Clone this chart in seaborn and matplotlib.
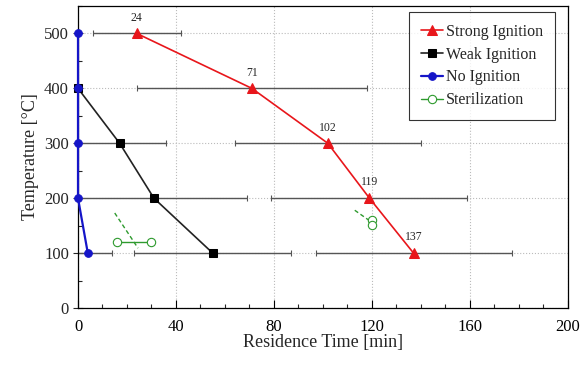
import numpy as np
import pandas as pd
import matplotlib
matplotlib.use("Agg")
import matplotlib.pyplot as plt
import seaborn as sns
from matplotlib.ticker import MultipleLocator

sns.set_theme(style="white")
plt.rcParams['font.family'] = ['Liberation Serif', 'DejaVu Serif']

temps = [500, 400, 300, 200, 100]
strong_time = [24, 71, 102, 119, 137]
strong_err = [18, 47, 38, 40, 40]
weak_temp = [400, 300, 200, 100]
weak_time = [0, 17, 31, 55]
weak_err = [0, 19, 38, 32]
none_time = [0, 0, 0, 0, 4]
none_err = [0, 0, 0, 0, 10]
steril_a_time = [16, 30]
steril_a_temp = [120, 120]
steril_b_time = [120, 120]
steril_b_temp = [160, 151]
dash_a_time = [15, 24.5]
dash_a_temp = [173, 109]
dash_b_time = [113, 120]
dash_b_temp = [178, 156]
labels = ["24", "71", "102", "119", "137"]

fig = plt.figure(figsize=(5.83, 3.69), dpi=100)
ax = fig.add_axes([0.1338, 0.1653, 0.8402, 0.8184])

ebkw = dict(fmt="none", ecolor="#555555", elinewidth=1.0, capsize=2, capthick=0.8, zorder=2)
ax.errorbar(strong_time, temps, xerr=strong_err, **ebkw)
ax.errorbar(weak_time[1:], weak_temp[1:], xerr=weak_err[1:], **ebkw)
ax.errorbar(none_time[-1:], temps[-1:], xerr=none_err[-1:], **ebkw)

n_before = len(ax.lines)
sns.lineplot(x=strong_time, y=temps, ax=ax, sort=False, estimator=None, color="#e8161b",
             marker="^", markersize=7, markeredgecolor="#e8161b", linewidth=1.2, label="Strong Ignition", zorder=4)
sns.lineplot(x=weak_time, y=weak_temp, ax=ax, sort=False, estimator=None, color="#222222",
             marker="s", markersize=6, markeredgecolor="black", markerfacecolor="black", linewidth=1.2, label="Weak Ignition", zorder=4)
sns.lineplot(x=none_time, y=temps, ax=ax, sort=False, estimator=None, color="#1515c8",
             marker="o", markersize=5.5, markeredgecolor="#1515c8", linewidth=1.6, label="No Ignition", zorder=5)
sns.lineplot(x=steril_a_time, y=steril_a_temp, ax=ax, sort=False, estimator=None, color="#2e9a2e",
             marker="o", markersize=6, markerfacecolor="white", markeredgecolor="#2e9a2e", markeredgewidth=0.8,
             linewidth=1.0, label="Sterilization", zorder=4)
sns.lineplot(x=steril_b_time, y=steril_b_temp, ax=ax, sort=False, estimator=None, color="#2e9a2e",
             marker="o", markersize=6, markerfacecolor="white", markeredgecolor="#2e9a2e", markeredgewidth=0.8,
             linewidth=1.0, legend=False, zorder=4)
for ln in ax.lines[n_before:]:
    ln.set_clip_on(False)
ax.plot(dash_a_time, dash_a_temp, color="#2e9a2e", linestyle=(0, (3, 2)), linewidth=1.0, zorder=3)
ax.plot(dash_b_time, dash_b_temp, color="#2e9a2e", linestyle=(0, (3, 2)), linewidth=1.0, zorder=3)

for t, T, s in zip(strong_time, temps, labels):
    ax.annotate(s, (t, T), xytext=(0, 7), textcoords="offset points", ha="center", va="bottom", fontsize=8.5)

ax.set_xlim(0, 200)
ax.set_ylim(0, 550)
ax.xaxis.set_major_locator(MultipleLocator(40))
ax.xaxis.set_minor_locator(MultipleLocator(10))
ax.set_yticks([0, 100, 200, 300, 400, 500])
ax.yaxis.set_minor_locator(MultipleLocator(50))
ax.tick_params(axis="x", which="major", direction="in", length=6, width=0.8, labelsize=12, pad=8, colors="black")
ax.tick_params(axis="x", which="minor", direction="in", length=3, width=0.8)
ax.tick_params(axis="y", which="major", direction="inout", length=7, width=0.8, labelsize=12, pad=3)
ax.tick_params(axis="y", which="minor", direction="in", length=3, width=0.8)
ax.tick_params(which="both", bottom=True, left=True)
ax.grid(True, which="major", color="#bbbbbb", linestyle=":", linewidth=0.8)
for sp in ax.spines.values():
    sp.set_color("black")
    sp.set_linewidth(0.9)
ax.set_xlabel("Residence Time [min]", fontsize=13, labelpad=-1)
ax.set_ylabel("Temperature [°C]", fontsize=13, labelpad=4)

leg = ax.legend(loc="upper right", bbox_to_anchor=(0.973, 0.98), fontsize=11.5, frameon=True,
                fancybox=False, edgecolor="black", handlelength=1.4, handletextpad=0.15,
                borderpad=0.75, labelspacing=0.42, borderaxespad=0)
leg.get_frame().set_linewidth(0.8)

fig.savefig("out.png", dpi=100)
